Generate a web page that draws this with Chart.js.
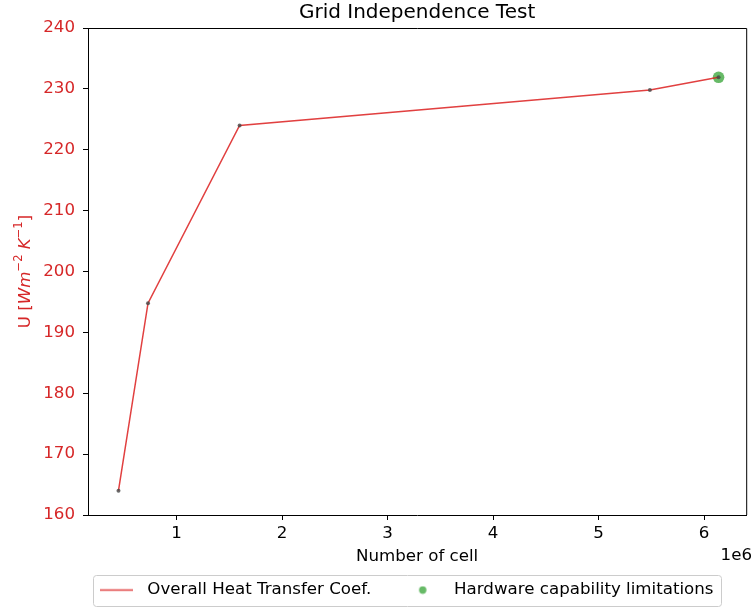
<!DOCTYPE html>
<html>
<head>
<meta charset="utf-8">
<script src="https://cdn.jsdelivr.net/npm/chart.js@4.4.1/dist/chart.umd.min.js"></script>
<style>
  html, body { margin: 0; padding: 0; background: #fff; }
  .chart-container { width: 752px; height: 607px; }
</style>
</head>
<body>
<div class="chart-container"><canvas id="gridChart" width="752" height="607"></canvas></div>
<script>
// mesh sizes and the resulting overall heat transfer coefficient
const cellCounts = [449000, 729000, 1597000, 5487000, 6138000];
const heatCoef = [164, 194.8, 224, 229.8, 231.9];
// finest mesh the hardware could handle
const limitCells = [6138000];
const limitCoef = [231.9];

const xTicks = [1e6, 2e6, 3e6, 4e6, 5e6, 6e6];
const yTicks = [160, 170, 180, 190, 200, 210, 220, 230, 240];
const seriesNames = ["Overall Heat Transfer Coef.", "Hardware capability limitations"];

const RED = "#d62728";
const LINE_RED = "rgba(220,30,30,0.85)";
const GREEN = "rgba(44,160,44,0.72)";
const FONT = "DejaVu Sans";
const FS = 16.67;

Chart.defaults.font.family = FONT;
Chart.defaults.color = "#000";

// legend symbols: short red line, small green dot (both 39px wide boxes)
function legendImg(draw) {
  const c = document.createElement("canvas");
  c.width = 39; c.height = 9;
  draw(c.getContext("2d"));
  return c;
}
const lineImg = legendImg(g => {
  g.strokeStyle = LINE_RED; g.lineWidth = 1.5;
  g.beginPath(); g.moveTo(0, 4.5); g.lineTo(33, 4.5); g.stroke();
});
const dotImg = legendImg(g => {
  g.fillStyle = GREEN;
  g.beginPath(); g.arc(16, 4.5, 3.7, 0, Math.PI * 2); g.fill();
});

// "U [Wm^-2 K^-1]" drawn piece by piece so the exponents sit raised
const yLabelParts = [
  { t: "U [", style: "" },
  { t: "Wm", style: "italic " },
  { t: "\u22122", style: "", sup: true },
  { t: " K", style: "italic " },
  { t: "\u22121", style: "", sup: true },
  { t: "]", style: "" }
];

const extras = {
  id: "extras",
  afterLayout(chart) {
    // slide the legend row so it starts just inside the left spine
    const L = chart.legend;
    const p = L.options.labels.padding;
    const start = (L.left + p + L.right - L.lineWidths[0]) / 2;
    const d = 100 - start;
    L.left += d; L.right += d;
  },
  beforeDraw(chart) {
    // legend frame
    const boxes = chart.legend.legendHitBoxes;
    if (!boxes || !boxes.length) return;
    const first = boxes[0], last = boxes[boxes.length - 1];
    const x0 = first.left - 7, x1 = last.left + last.width + 8;
    const y0 = first.top - 7, y1 = first.top + first.height + 7;
    const ctx = chart.ctx;
    ctx.save();
    ctx.fillStyle = "rgba(255,255,255,0.8)";
    ctx.strokeStyle = "#cccccc";
    ctx.lineWidth = 1;
    ctx.beginPath();
    ctx.roundRect(Math.round(x0) + 0.5, Math.round(y0) + 0.5, Math.round(x1 - x0), Math.round(y1 - y0), 3);
    ctx.fill();
    ctx.stroke();
    ctx.restore();
  },
  afterDraw(chart) {
    const ctx = chart.ctx;
    const area = chart.chartArea;
    ctx.save();
    // top and right spines
    ctx.strokeStyle = "#000";
    ctx.lineWidth = 1;
    ctx.beginPath();
    ctx.moveTo(area.left, area.top + 0.5);
    ctx.lineTo(area.right + 0.5, area.top + 0.5);
    ctx.lineTo(area.right + 0.5, area.bottom);
    ctx.stroke();

    // offset text for the x axis
    ctx.fillStyle = "#000";
    ctx.font = FS + "px " + FONT;
    ctx.textAlign = "right";
    ctx.textBaseline = "middle";
    ctx.fillText("1e6", 752, 556);

    // y axis label
    ctx.translate(25.5, (area.top + area.bottom) / 2);
    ctx.rotate(-Math.PI / 2);
    ctx.fillStyle = RED;
    ctx.textAlign = "left";
    const fontOf = p => p.style + (p.sup ? "11.5px " : FS + "px ") + FONT;
    let total = 0;
    yLabelParts.forEach(p => { ctx.font = fontOf(p); total += ctx.measureText(p.t).width; });
    let x = -total / 2;
    yLabelParts.forEach(p => {
      ctx.font = fontOf(p);
      ctx.fillText(p.t, x, p.sup ? -6 : 0);
      x += ctx.measureText(p.t).width;
    });
    ctx.restore();
  }
};

new Chart(document.getElementById("gridChart"), {
  type: "scatter",
  data: {
    datasets: [
      {
        label: seriesNames[1],
        data: limitCells.map((c, i) => ({ x: c, y: limitCoef[i] })),
        backgroundColor: GREEN,
        borderWidth: 0,
        pointRadius: 5.8,
        order: 2
      },
      {
        label: seriesNames[0],
        data: cellCounts.map((c, i) => ({ x: c, y: heatCoef[i] })),
        showLine: true,
        borderColor: LINE_RED,
        borderWidth: 1.5,
        pointRadius: 2,
        pointBackgroundColor: "rgba(70,70,70,0.8)",
        pointBorderWidth: 0,
        order: 1
      }
    ]
  },
  options: {
    responsive: false,
    animation: false,
    devicePixelRatio: 1,
    layout: { padding: { left: 0, right: 3, top: 0, bottom: 0 } },
    plugins: {
      title: {
        display: true,
        text: "Grid Independence Test",
        fullSize: false,
        font: { size: 20, weight: "normal" },
        color: "#000",
        padding: { top: 1, bottom: 3 }
      },
      legend: {
        position: "bottom",
        fullSize: true,
        maxHeight: 60.83,
        labels: {
          usePointStyle: true,
          pointStyleWidth: 39,
          padding: 35.5,
          font: { size: FS },
          color: "#000",
          generateLabels: () => [
            { text: seriesNames[0], pointStyle: lineImg, strokeStyle: LINE_RED, fillStyle: LINE_RED, lineWidth: 0, datasetIndex: 1, hidden: false },
            { text: seriesNames[1], pointStyle: dotImg, strokeStyle: GREEN, fillStyle: GREEN, lineWidth: 0, datasetIndex: 0, hidden: false }
          ]
        }
      },
      tooltip: { enabled: false }
    },
    scales: {
      x: {
        type: "linear",
        min: 160000,
        max: 6400000,
        afterFit: s => { s.height = 31.17; },
        afterBuildTicks: s => { s.ticks = xTicks.map(v => ({ value: v })); },
        grid: { display: true, drawOnChartArea: false, drawTicks: true, tickLength: 5, color: "#000" },
        border: { display: true, color: "#000", width: 1 },
        ticks: { padding: 4, font: { size: FS }, color: "#000", callback: v => String(v / 1e6) },
        title: { display: true, text: "Number of cell", font: { size: FS }, color: "#000", padding: { top: 0, bottom: -20.83 } }
      },
      y: {
        min: 160,
        max: 240,
        afterFit: s => { s.width = 88; },
        afterBuildTicks: s => { s.ticks = yTicks.map(v => ({ value: v })); },
        grid: { display: true, drawOnChartArea: false, drawTicks: true, tickLength: 5, color: "#000" },
        border: { display: true, color: "#000", width: 1 },
        ticks: { padding: 8, font: { size: FS }, color: RED }
      }
    }
  },
  plugins: [extras]
});
</script>
</body>
</html>
